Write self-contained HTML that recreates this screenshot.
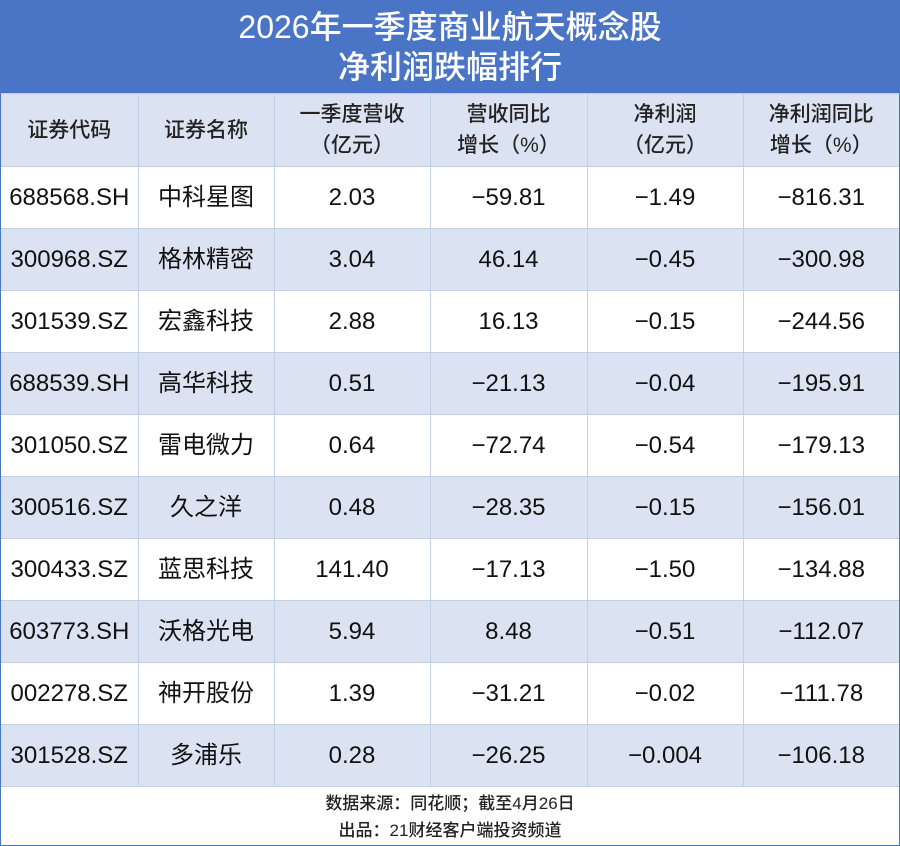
<!DOCTYPE html>
<html><head><meta charset="utf-8"><style>
body{margin:0;width:900px;height:846px;background:#fff;font-family:"Liberation Sans","Noto Sans CJK SC",sans-serif;overflow:hidden}
.wrap{position:absolute;left:0;top:0;width:898px;height:844px;border:1px solid #4a74c6}
.title{position:absolute;left:0;top:0;width:898px;height:92px;background:#4a74c6;color:#fff;text-align:center;font-size:32px;font-weight:500;line-height:40px;padding-top:6px;box-sizing:border-box}
table{position:absolute;left:0;top:92px;border-collapse:collapse;width:898px}
td{border:1px solid #c2cfe8;text-align:center;font-size:24px;color:#111;height:61px;padding:0;line-height:28px}
tr.h td{background:#dbe3f3;font-size:21px;line-height:31px;height:72px;color:#222;font-weight:500}
tr.a td{background:#dbe3f3}
td:first-child{border-left:none}td:last-child{border-right:none}
.foot{position:absolute;left:0;top:786px;width:898px;text-align:center;font-size:17px;line-height:27px;color:#222;padding-top:3px;font-weight:500}
</style></head><body><div class="wrap">
<div class="title">2026年一季度商业航天概念股<br>净利润跌幅排行</div>
<table>
<colgroup><col style="width:137px"><col style="width:136px"><col style="width:156px"><col style="width:157px"><col style="width:156px"><col></colgroup>
<tr class="h"><td>证券代码</td><td>证券名称</td><td>一季度营收<br>（亿元）</td><td>营收同比<br>增长（%）</td><td>净利润<br>（亿元）</td><td>净利润同比<br>增长（%）</td></tr>
<tr><td>688568.SH</td><td>中科星图</td><td>2.03</td><td>−59.81</td><td>−1.49</td><td>−816.31</td></tr>
<tr class="a"><td>300968.SZ</td><td>格林精密</td><td>3.04</td><td>46.14</td><td>−0.45</td><td>−300.98</td></tr>
<tr><td>301539.SZ</td><td>宏鑫科技</td><td>2.88</td><td>16.13</td><td>−0.15</td><td>−244.56</td></tr>
<tr class="a"><td>688539.SH</td><td>高华科技</td><td>0.51</td><td>−21.13</td><td>−0.04</td><td>−195.91</td></tr>
<tr><td>301050.SZ</td><td>雷电微力</td><td>0.64</td><td>−72.74</td><td>−0.54</td><td>−179.13</td></tr>
<tr class="a"><td>300516.SZ</td><td>久之洋</td><td>0.48</td><td>−28.35</td><td>−0.15</td><td>−156.01</td></tr>
<tr><td>300433.SZ</td><td>蓝思科技</td><td>141.40</td><td>−17.13</td><td>−1.50</td><td>−134.88</td></tr>
<tr class="a"><td>603773.SH</td><td>沃格光电</td><td>5.94</td><td>8.48</td><td>−0.51</td><td>−112.07</td></tr>
<tr><td>002278.SZ</td><td>神开股份</td><td>1.39</td><td>−31.21</td><td>−0.02</td><td>−111.78</td></tr>
<tr class="a"><td>301528.SZ</td><td>多浦乐</td><td>0.28</td><td>−26.25</td><td>−0.004</td><td>−106.18</td></tr>
</table>
<div class="foot">数据来源：同花顺；截至4月26日<br>出品：21财经客户端投资频道</div>
</div></body></html>
